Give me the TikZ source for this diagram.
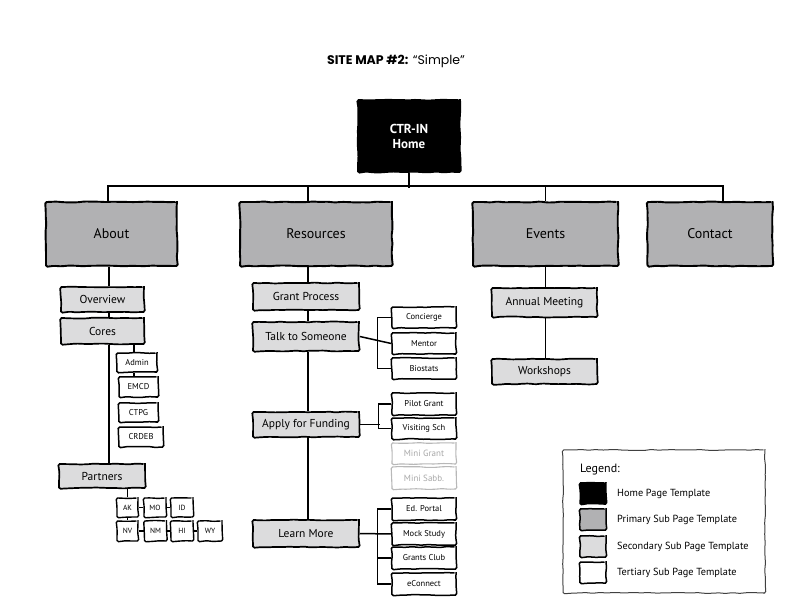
\documentclass[tikz,border=0pt]{standalone}
\usepackage{fontspec}
\setmainfont{PT Sans}
\newfontfamily\titlefont{Poppins}
\usetikzlibrary{decorations.pathmorphing}
\definecolor{primgray}{HTML}{B1B1B3}
\definecolor{secgray}{HTML}{DCDCDD}
\definecolor{ghost}{HTML}{B8B8B8}
\definecolor{ghosttext}{HTML}{A8A8A8}
\begin{document}
\begin{tikzpicture}[x=1pt,y=-1pt,
  sketch/.style={decorate,decoration={random steps,segment length=7pt,amplitude=0.5pt},rounded corners=1.5pt},
  homebox/.style={draw,sketch,fill=black,line width=1.8pt,text=white,inner sep=0pt,align=center,font=\fontsize{13}{15}\selectfont\bfseries},
  primbox/.style={draw,sketch,fill=primgray,line width=1.9pt,inner sep=0pt,font=\fontsize{14}{16}\selectfont},
  secbox/.style={draw,sketch,fill=secgray,line width=1.7pt,inner sep=0pt,font=\fontsize{11.5}{13}\selectfont},
  terbox/.style={draw,sketch,fill=white,line width=1.5pt,inner sep=0pt,font=\fontsize{8.5}{10}\selectfont},
  statebox/.style={draw,sketch,fill=white,line width=1.4pt,inner sep=0pt,font=\fontsize{7.5}{9}\selectfont},
  ghostbox/.style={draw=ghost,sketch,fill=white,line width=1.1pt,inner sep=0pt,text=ghosttext,font=\fontsize{9}{10}\selectfont},
  conn/.style={line width=1.5pt},
  legtext/.style={anchor=west,inner sep=0pt,font=\fontsize{10.3}{12}\selectfont}
]
\pgfmathsetseed{7}
\useasboundingbox (0,0) rectangle (792,612);

% title
\node[font=\titlefont\fontsize{12.5}{14}\selectfont] (title) at (396,61) {\textbf{SITE MAP \#2:} “Simple”};

% home and primary
\node[homebox,minimum width=102pt,minimum height=72pt] (home) at (409,136) {CTR-IN\\Home};
\node[primbox,minimum width=131pt,minimum height=64pt] (about) at (111.5,234) {About};
\node[primbox,minimum width=152pt,minimum height=64pt] (res) at (316,234) {Resources};
\node[primbox,minimum width=145pt,minimum height=64pt] (events) at (545.5,234) {Events};
\node[primbox,minimum width=125pt,minimum height=64pt] (contact) at (710,234) {Contact};

\draw[conn] ([xshift=-3.5pt]about.north) -- ++(0,-15) -| ([xshift=13pt]contact.north);
\draw[conn] (home.south) -- ++(0,15);
\draw[conn] ([xshift=-8pt]res.north) -- ++(0,-15);
\draw[conn] (events.north) -- ++(0,-15);

% About branch
\node[secbox,minimum width=83pt,minimum height=25pt] (overview) at (102.5,299.5) {Overview};
\node[secbox,minimum width=83pt,minimum height=26pt] (cores) at (102.5,331) {Cores};
\node[secbox,minimum width=86pt,minimum height=24pt] (partners) at (102,476) {Partners};
\draw[conn] ([xshift=-2.5pt]about.south) coordinate (a1) -- (a1 |- overview.north);
\draw[conn] (a1 |- overview.south) -- (a1 |- cores.north);
\draw[conn] (a1 |- cores.south) -- (a1 |- partners.north);

\node[terbox,minimum width=40pt,minimum height=19pt] (admin) at (137,362.5) {Admin};
\node[terbox,minimum width=39pt,minimum height=20pt] (emcd) at (138.5,387) {EMCD};
\node[terbox,minimum width=39pt,minimum height=19pt] (ctpg) at (138.5,412.5) {CTPG};
\node[terbox,minimum width=44pt,minimum height=20pt] (crdeb) at (141,437) {CRDEB};
\draw[conn] ([xshift=-3pt]admin.north) coordinate (c1) -- (c1 |- cores.south);
\draw[conn] (c1 |- admin.south) -- (c1 |- emcd.north);

\node[statebox,minimum width=21pt,minimum height=19pt] (ak) at (127.5,507.5) {AK};
\node[statebox,minimum width=22pt,minimum height=19pt] (mo) at (155,507.5) {MO};
\node[statebox,minimum width=22pt,minimum height=19pt] (id) at (182,507.5) {ID};
\node[statebox,minimum width=21pt,minimum height=20pt] (nv) at (127.5,531) {NV};
\node[statebox,minimum width=22pt,minimum height=20pt] (nm) at (155.5,531) {NM};
\node[statebox,minimum width=22pt,minimum height=20pt] (hi) at (182,531) {HI};
\node[statebox,minimum width=24pt,minimum height=20pt] (wy) at (210,531) {WY};
\draw[conn] (ak.north) -- (ak.north |- partners.south);
\draw[conn] (ak) -- (mo);
\draw[conn] (mo) -- (id);
\draw[conn] (ak.south) -- (nv.north);
\draw[conn] (nv) -- (nm);
\draw[conn] (nm) -- (hi);
\draw[conn] (hi) -- (wy);

% Resources branch
\node[secbox,minimum width=106pt,minimum height=27pt] (grant) at (306,296.5) {Grant Process};
\node[secbox,minimum width=106pt,minimum height=29pt] (talk) at (306,336.5) {Talk to Someone};
\node[secbox,minimum width=106pt,minimum height=25pt] (apply) at (306,424.5) {Apply for Funding};
\node[secbox,minimum width=106pt,minimum height=27pt] (learn) at (306,533.5) {Learn More};
\draw[conn] ([xshift=-8pt]res.south) coordinate (r1) -- (r1 |- grant.north);
\draw[conn] (r1 |- grant.south) -- (r1 |- talk.north);
\draw[conn] (r1 |- talk.south) -- (r1 |- apply.north);
\draw[conn] (r1 |- apply.south) -- (r1 |- learn.north);

\node[terbox,minimum width=64pt,minimum height=21pt] (concierge) at (424,317.5) {Concierge};
\node[terbox,minimum width=64pt,minimum height=21pt] (mentor) at (424,343.5) {Mentor};
\node[terbox,minimum width=64pt,minimum height=21pt] (biostats) at (424,368.5) {Biostats};
\draw[conn] (concierge.west) -- ++(-14,0) |- (biostats.west);
\draw[conn] (talk.east) -- (mentor.west);

\node[terbox,minimum width=64pt,minimum height=22pt] (pilot) at (424,404) {Pilot Grant};
\node[terbox,minimum width=64pt,minimum height=21pt] (visiting) at (424,428.5) {Visiting Sch};
\draw[conn] (pilot.west) -- ++(-13,0) |- (visiting.west);
\draw[conn] (apply.east) -- ++(20,0);

\node[ghostbox,minimum width=64pt,minimum height=21pt] (minigrant) at (424,453.5) {Mini Grant};
\node[ghostbox,minimum width=64pt,minimum height=22pt] (minisabb) at (424,478) {Mini Sabb.};

\node[terbox,minimum width=64pt,minimum height=22pt] (edportal) at (424,509) {Ed. Portal};
\node[terbox,minimum width=64pt,minimum height=22pt] (mock) at (424,534) {Mock Study};
\node[terbox,minimum width=64pt,minimum height=22pt] (gclub) at (424,558) {Grants Club};
\node[terbox,minimum width=64pt,minimum height=22pt] (econnect) at (424,584) {eConnect};
\draw[conn] (edportal.west) -- ++(-14,0) |- (econnect.west);
\draw[conn] (gclub.west) -- ++(-14,0);
\draw[conn] (learn.east) -- (mock.west);

% Events branch
\node[secbox,minimum width=105pt,minimum height=29pt] (annual) at (544.5,302.5) {Annual Meeting};
\node[secbox,minimum width=105pt,minimum height=25pt] (workshops) at (544.5,371.5) {Workshops};
\draw[conn] (events.south) -- (events.south |- annual.north);
\draw[conn] (events.south |- annual.south) -- (events.south |- workshops.north);

% Legend
\node[draw=black!75,sketch,line width=1pt,minimum width=202pt,minimum height=143pt,inner sep=0pt] (legend) at (664,521.5) {};
\node[anchor=west,inner sep=0pt,font=\fontsize{12}{14}\selectfont] (legtitle) at (580,470) {Legend:};
\node[draw,sketch,fill=black,line width=1.5pt,minimum width=26pt,minimum height=21pt,inner sep=0pt] (sw1) at (593,493.5) {};
\node[draw,sketch,fill=primgray,line width=1.5pt,minimum width=26pt,minimum height=21pt,inner sep=0pt] (sw2) at (593,519.5) {};
\node[draw,sketch,fill=secgray,line width=1.5pt,minimum width=26pt,minimum height=21pt,inner sep=0pt] (sw3) at (593,546.5) {};
\node[draw,sketch,fill=white,line width=1.5pt,minimum width=26pt,minimum height=21pt,inner sep=0pt] (sw4) at (593,572.5) {};
\node[legtext] (lt1) at (617,493.5) {Home Page Template};
\node[legtext] (lt2) at (617,519.5) {Primary Sub Page Template};
\node[legtext] (lt3) at (617,546.5) {Secondary Sub Page Template};
\node[legtext] (lt4) at (617,572.5) {Tertiary Sub Page Template};
\end{tikzpicture}
\end{document}
